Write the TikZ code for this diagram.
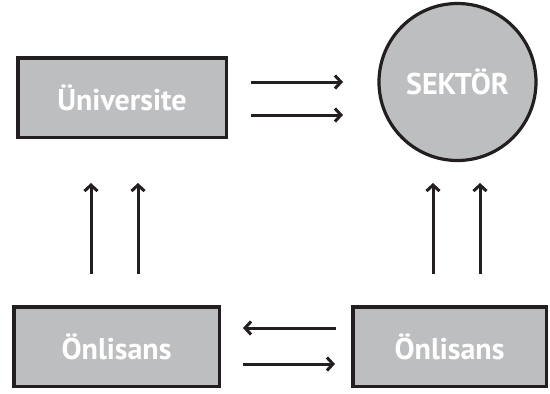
\documentclass[tikz,border=0pt]{standalone}
\usepackage{fontspec}
\setmainfont{PT Sans}
\usetikzlibrary{arrows.meta}
\definecolor{boxgray}{RGB}{188,190,192}
\definecolor{ink}{RGB}{35,31,32}
\tikzset{
  box/.style={draw=ink, line width=3.5pt, fill=boxgray, rectangle, inner sep=0pt,
    text=white, font=\bfseries\fontsize{30}{32}\selectfont},
  roundbox/.style={draw=ink, line width=3.2pt, fill=boxgray, circle, inner sep=0pt,
    minimum size=157pt, text=white, font=\bfseries\fontsize{30}{32}\selectfont},
  arr/.style={draw=ink, line width=3pt, -{Straight Barb[length=6pt,width=13pt]}}
}
\begin{document}
\begin{tikzpicture}[x=1pt,y=-1pt]
\useasboundingbox (0,0) rectangle (550,394);
\node[box, minimum width=208.5pt, minimum height=79.5pt] (uni) at (122,97.5) {Üniversite};
\node[roundbox] (sek) at (457.5,82) {SEKTÖR};
\node[box, minimum width=205.5pt, minimum height=79.5pt] (onl) at (116.5,346.5) {Önlisans};
\node[box, minimum width=193.5pt, minimum height=79.5pt] (onr) at (449.5,346.5) {Önlisans};
% top horizontal arrows
\coordinate (t1s) at (251,82);  \coordinate (t1e) at (343,82);
\coordinate (t2s) at (251,115); \coordinate (t2e) at (343,115);
\draw[arr] (t1s) -- (t1e);
\draw[arr] (t2s) -- (t2e);
% left vertical arrows
\coordinate (l1s) at (91,274);  \coordinate (l1e) at (91,183);
\coordinate (l2s) at (138,274); \coordinate (l2e) at (138,183);
\draw[arr] (l1s) -- (l1e);
\draw[arr] (l2s) -- (l2e);
% right vertical arrows
\coordinate (r1s) at (433,274); \coordinate (r1e) at (433,183);
\coordinate (r2s) at (480,274); \coordinate (r2e) at (480,183);
\draw[arr] (r1s) -- (r1e);
\draw[arr] (r2s) -- (r2e);
% bottom horizontal arrows
\coordinate (b1s) at (336,328); \coordinate (b1e) at (243,328);
\coordinate (b2s) at (243,364); \coordinate (b2e) at (335,364);
\draw[arr] (b1s) -- (b1e);
\draw[arr] (b2s) -- (b2e);
\end{tikzpicture}
\end{document}
